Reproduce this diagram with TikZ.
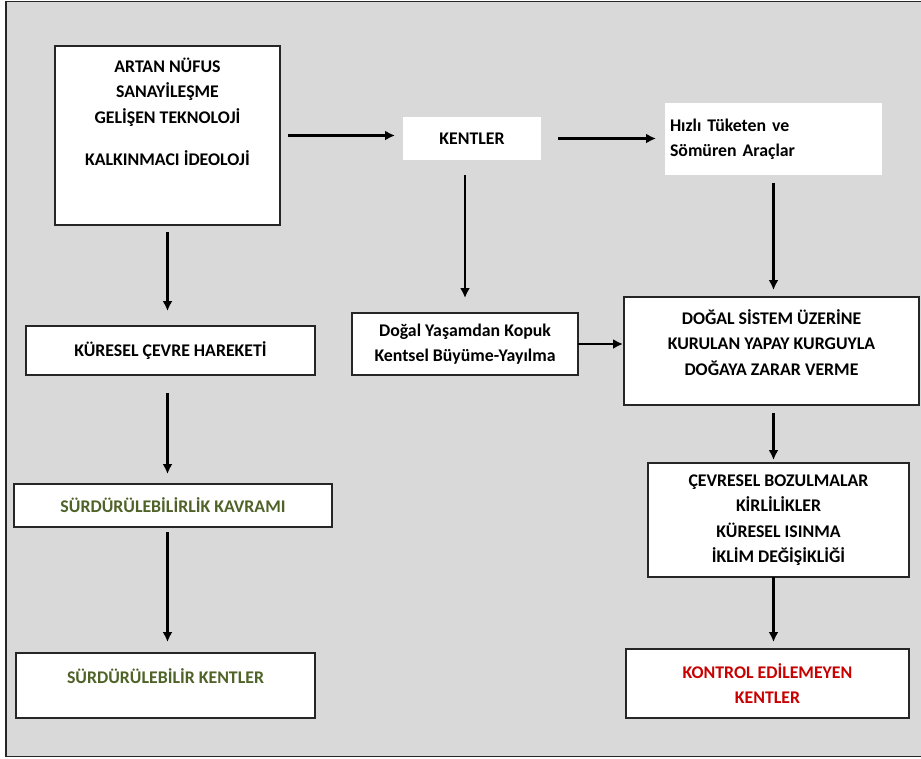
\documentclass[tikz,border=0pt]{standalone}
\usepackage{fontspec}
\setmainfont{Carlito}
\usepackage{xcolor}
\usepackage{tikz}
\usetikzlibrary{arrows.meta}

\definecolor{panelgray}{RGB}{217,217,217}
\definecolor{olivetext}{RGB}{79,98,40}
\definecolor{alarmred}{RGB}{200,0,0}

\begin{document}
\begin{tikzpicture}
		[x=1pt, y=-1pt,
		every node/.style={font=\fontsize{17.8}{25.5}\selectfont\bfseries, inner sep=0pt, outer sep=0pt, align=center},
		box/.style={draw=black!85, line width=1.6pt, fill=white},
		open box/.style={fill=white},
		flow arrow/.style={line width=2.5pt, -{Latex[length=10pt,width=10pt]}},
		green text/.style={text=olivetext},
		red text/.style={text=alarmred}]

		\useasboundingbox (0,0) rectangle (921,758);
		% grey panel
		\draw[fill=panelgray, line width=1.6pt, draw=black!85] (6,1.5) rectangle (930,756.5);

		% left column
		\node[box, minimum width=225, minimum height=179] (drivers) at (167.5,135.5)
			{ARTAN NÜFUS\\SANAYİLEŞME\\GELİŞEN TEKNOLOJİ\\[16.5pt]KALKINMACI İDEOLOJİ\\[22pt]\mbox{}};
		\node[box, minimum width=289, minimum height=49] (movement) at (170.5,350.5) {KÜRESEL ÇEVRE HAREKETİ};
		\node[box, green text, minimum width=318, minimum height=43] (concept) at (173,505.5) {SÜRDÜRÜLEBİLİRLİK KAVRAMI};
		\node[box, green text, minimum width=299, minimum height=65] (sustainable) at (165.5,685.5)
			{SÜRDÜRÜLEBİLİR KENTLER\\[-6.5pt]\mbox{}};

		% middle
		\node[open box, minimum width=138, minimum height=43] (cities) at (472,138.5) {KENTLER};
		\node[box, minimum width=226, minimum height=62] (sprawl) at (465,344)
			{Doğal Yaşamdan Kopuk\\Kentsel Büyüme-Yayılma};

		% right column
		\node[open box, anchor=west, text width=207, inner xsep=5pt, align=left, minimum height=72] (tools) at (665,139)
			{Hızlı Tüketen ve\\Sömüren Araçlar};
		\node[box, minimum width=295, minimum height=108] (harm) at (771.5,351)
			{DOĞAL SİSTEM ÜZERİNE\\KURULAN YAPAY KURGUYLA\\DOĞAYA ZARAR VERME\\[-8.5pt]\mbox{}};
		\node[box, minimum width=261, minimum height=114] (effects) at (778.5,520)
			{ÇEVRESEL BOZULMALAR\\KİRLİLİKLER\\KÜRESEL ISINMA\\İKLİM DEĞİŞİKLİĞİ};
		\node[box, red text, minimum width=283, minimum height=69] (uncontrolled) at (767.5,683.5)
			{KONTROL EDİLEMEYEN\\KENTLER};

		% connectors
		\draw[flow arrow, shorten <=8pt, shorten >=8pt] (drivers.east) -- (drivers.east -| cities.west);
		\draw[flow arrow, shorten <=17pt, shorten >=9pt] (cities.east) -- (cities.east -| tools.west);
		\draw[flow arrow, shorten <=15pt, shorten >=15pt] (sprawl.north |- cities.south) -- (sprawl.north);
		\draw[flow arrow, shorten <=8pt, shorten >=7pt] (tools.south) -- (tools.south |- harm.north);
		\draw[flow arrow, shorten >=1pt] (sprawl.east) -- (sprawl.east -| harm.west);
		\draw[flow arrow, shorten <=8pt, shorten >=3pt] (tools.south |- harm.south) -- (tools.south |- effects.north);
		\draw[flow arrow, shorten >=7pt] (tools.south |- effects.south) -- (tools.south |- uncontrolled.north);
		\draw[flow arrow, shorten <=7pt, shorten >=15pt] (drivers.south) -- (drivers.south |- movement.north);
		\draw[flow arrow, shorten <=18pt, shorten >=10pt] (drivers.south |- movement.south) -- (drivers.south |- concept.north);
		\draw[flow arrow, shorten <=5pt, shorten >=11pt] (drivers.south |- concept.south) -- (drivers.south |- sustainable.north);

\end{tikzpicture}
\end{document}
